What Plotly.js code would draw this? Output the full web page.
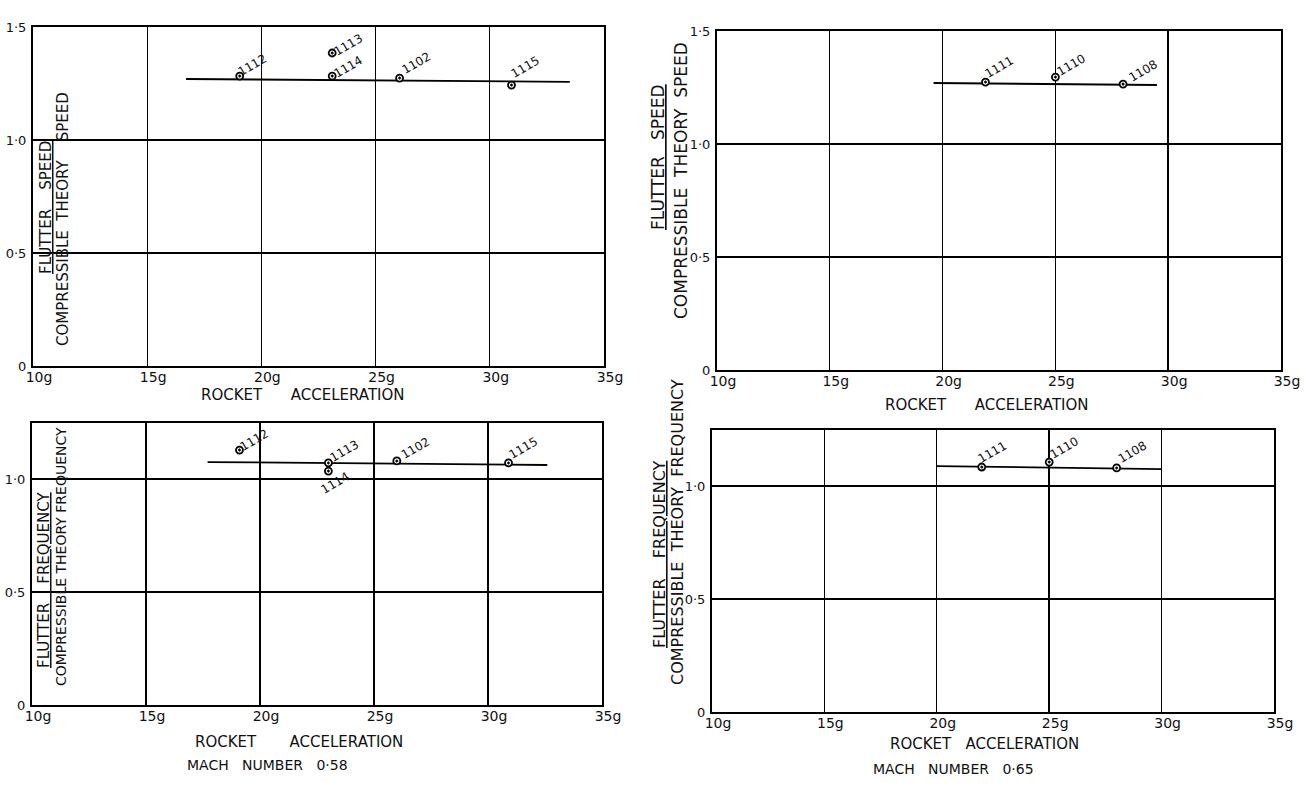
<!DOCTYPE html>
<html><head><meta charset="utf-8">
<script src="https://cdn.plot.ly/plotly-3.0.1.min.js"></script>
<style>body{margin:0;background:#fff}</style></head><body>
<div id="chart" style="width:1304px;height:790px"></div>
<script>
// ---- data ----
const accTL = [19.05, 23.1, 23.1, 26.05, 30.95];
const spdTL = [1.283, 1.385, 1.283, 1.274, 1.243];
const runTL = ['1112', '1113', '1114', '1102', '1115'];
const fitAccTL = [16.7, 33.5];
const fitSpdTL = [1.270, 1.257];

const accTR = [21.9, 25.0, 28.0];
const spdTR = [1.274, 1.296, 1.265];
const runTR = ['1111', '1110', '1108'];
const fitAccTR = [19.6, 29.5];
const fitSpdTR = [1.270, 1.261];

const accBL = [19.1, 23.0, 23.0, 26.0, 30.9];
const frqBL = [1.128, 1.071, 1.035, 1.080, 1.071];
const runBL = ['1112', '1113', '1114', '1102', '1115'];
const fitAccBL = [17.7, 32.6];
const fitFrqBL = [1.075, 1.062];

const accBR = [22.0, 25.0, 28.0];
const frqBR = [1.084, 1.106, 1.080];
const runBR = ['1111', '1110', '1108'];
const fitAccBR = [20.0, 30.0];
const fitFrqBR = [1.088, 1.075];

const xTickVals = [10, 15, 20, 25, 30, 35];
const xTickText = ['10g', '15g', '20g', '25g', '30g', '35g'];
const yTickVals = [0, 0.5, 1.0, 1.5];
const yTickText = ['0', '0·5', '1·0', '1·5'];

// ---- layout / style ----
const W = 1304, H = 790;
const NB = '\u00a0';
const sp = n => NB.repeat(n);
const FONT = 'DejaVu Sans, sans-serif';

const panels = [
  {acc: accTL, val: spdTL, run: runTL, fx: fitAccTL, fy: fitSpdTL, box: {l: 33, r: 604, b: 366, t: 27}, ymax: 1.5,
   off: [[13, 11], [16, 8], [16, 9], [17, 15], [14, 18]]},
  {acc: accTR, val: spdTR, run: runTR, fx: fitAccTR, fy: fitSpdTR, box: {l: 717, r: 1281, b: 370, t: 31}, ymax: 1.5,
   off: [[14, 15], [16, 12], [20, 13]]},
  {acc: accBL, val: frqBL, run: runBL, fx: fitAccBL, fy: fitFrqBL, box: {l: 32, r: 602, b: 705, t: 422.5}, ymax: 1.25,
   off: [[15, 10], [16, 12], [7, -12], [19, 13], [15, 15]]},
  {acc: accBR, val: frqBR, run: runBR, fx: fitAccBR, fy: fitFrqBR, box: {l: 712, r: 1274, b: 712, t: 429.5}, ymax: 1.25,
   off: [[11, 15], [15, 14], [16, 16]]}
];

const traces = [];
const annotations = [];
const layout = {
  width: W, height: H, autosize: false,
  margin: {l: 0, r: 0, t: 0, b: 0},
  paper_bgcolor: '#fff', plot_bgcolor: '#fff',
  showlegend: false,
  font: {family: FONT, color: '#111'},
  annotations: annotations
};

panels.forEach((p, i) => {
  const n = i === 0 ? '' : String(i + 1);
  const xa = 'x' + n, ya = 'y' + n;
  layout['xaxis' + n] = {
    domain: [p.box.l / W, p.box.r / W], anchor: ya,
    range: [10, 35], tickvals: xTickVals, ticktext: xTickText,
    showline: true, mirror: true, linecolor: '#000', linewidth: 2,
    showgrid: true, gridcolor: '#000', gridwidth: 1.4, zeroline: false,
    ticks: '', ticklabelshift: 6, ticklabelstandoff: -3,
    tickfont: {family: FONT, size: 14, color: '#111'}, fixedrange: true
  };
  const yv = yTickVals.filter(v => v <= p.ymax + 1e-9);
  layout['yaxis' + n] = {
    domain: [1 - p.box.b / H, 1 - p.box.t / H], anchor: xa,
    range: [0, p.ymax], tickvals: yv, ticktext: yTickText.slice(0, yv.length),
    showline: true, mirror: true, linecolor: '#000', linewidth: 2,
    showgrid: true, gridcolor: '#000', gridwidth: 1.4, zeroline: false,
    ticks: '', ticklabelstandoff: 2,
    tickfont: {family: FONT, size: 13, color: '#111'}, fixedrange: true
  };
  traces.push({
    x: p.fx, y: p.fy, xaxis: xa, yaxis: ya, type: 'scatter', mode: 'lines',
    line: {color: '#000', width: 1.8}, hoverinfo: 'skip'
  });
  traces.push({
    x: p.acc, y: p.val, xaxis: xa, yaxis: ya, type: 'scatter', mode: 'markers',
    marker: {symbol: 'circle-dot', size: 7, color: '#fff', line: {color: '#000', width: 1.8}},
    text: p.run, hoverinfo: 'text+x+y'
  });
  p.run.forEach((r, k) => {
    annotations.push({
      xref: xa, yref: ya, x: p.acc[k], y: p.val[k], text: r, showarrow: false,
      textangle: -30, xshift: p.off[k][0], yshift: p.off[k][1],
      font: {family: FONT, size: 12, color: '#111'}
    });
  });
});

function paperText(text, px, py, size, angle) {
  annotations.push({
    xref: 'paper', yref: 'paper', x: px / W, y: 1 - py / H, text: text,
    showarrow: false, xanchor: 'center', yanchor: 'middle', textangle: angle || 0,
    font: {family: FONT, size: size, color: '#111'}
  });
}

// x axis titles & captions
paperText('ROCKET' + sp(6) + 'ACCELERATION', 303, 395, 15);
paperText('ROCKET' + sp(6) + 'ACCELERATION', 987, 405, 15);
paperText('ROCKET' + sp(7) + 'ACCELERATION', 299, 742, 15);
paperText('ROCKET' + sp(3) + 'ACCELERATION', 984, 744, 15);
paperText('MACH' + sp(3) + 'NUMBER' + sp(3) + '0·58', 267, 765, 14);
paperText('MACH' + sp(3) + 'NUMBER' + sp(3) + '0·65', 953, 769, 14);

// y axis titles (fraction form)
paperText('<u>FLUTTER' + sp(4) + 'SPEED</u>', 46, 208, 15, -90);
paperText('COMPRESSIBLE' + sp(2) + 'THEORY' + sp(4) + 'SPEED', 63, 219, 15, -90);
paperText('<u>FLUTTER' + sp(3) + 'SPEED</u>', 658, 157, 17, -90);
paperText('COMPRESSIBLE' + sp(2) + 'THEORY' + sp(2) + 'SPEED', 681, 181, 17, -90);
paperText('<u>FLUTTER' + sp(4) + 'FREQUENCY</u>', 44, 580, 15, -90);
paperText('COMPRESSIBLE' + sp(1) + 'THEORY' + sp(1) + 'FREQUENCY', 61, 557, 14, -90);
paperText('<u>FLUTTER' + sp(4) + 'FREQUENCY</u>', 659, 554, 16, -90);
paperText('COMPRESSIBLE' + sp(2) + 'THEORY' + sp(2) + 'FREQUENCY', 677, 532, 16, -90);

Plotly.newPlot('chart', traces, layout, {staticPlot: true, displayModeBar: false});
</script>
</body></html>
